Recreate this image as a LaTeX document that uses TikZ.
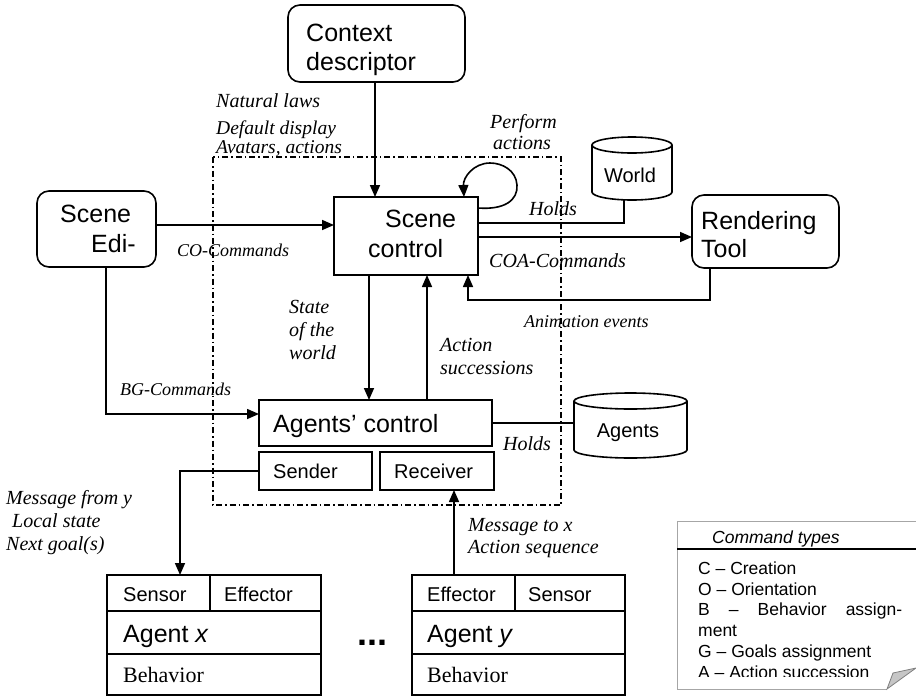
\documentclass[tikz,border=0pt]{standalone}
\usepackage{fontspec}
\setmainfont{Liberation Serif}
\setsansfont{Liberation Sans}
\usetikzlibrary{arrows.meta}
\begin{document}
\begin{tikzpicture}[x=1pt,y=-1pt,
  box/.style={draw, line width=1.6pt, inner sep=0pt, outer sep=0pt},
  rbox/.style={box, rounded corners=12pt},
  frame/.style={inner sep=0pt, outer sep=0pt},
  conn/.style={line width=1.6pt},
  arr/.style={conn, -{Triangle[length=12pt,width=10pt]}},
  big/.style={font=\sffamily\fontsize{25}{30}\selectfont, anchor=base west, inner sep=0pt},
  mid/.style={font=\sffamily\fontsize{20}{24}\selectfont, anchor=base west, inner sep=0pt},
  beh/.style={font=\rmfamily\fontsize{22}{26}\selectfont, anchor=base west, inner sep=0pt},
  lab/.style={font=\rmfamily\itshape\fontsize{20}{24}\selectfont, anchor=base west, inner sep=0pt},
  tlab/.style={font=\rmfamily\itshape\fontsize{19.5}{22}\selectfont, anchor=base west, inner sep=0pt},
  slab/.style={font=\rmfamily\itshape\fontsize{18}{22}\selectfont, anchor=base west, inner sep=0pt},
  note/.style={font=\sffamily\fontsize{17.5}{20}\selectfont, anchor=base west, inner sep=0pt},
  dashdot/.style={line width=1.3pt, dash pattern=on 6pt off 3pt on 1.5pt off 3pt}]
\useasboundingbox (0,0) rectangle (916,697);

% dash-dot boundary
\draw[dashdot] (213,157) rectangle (561,505);

% boxes
\node[rbox, minimum width=177pt, minimum height=77pt] (ctx) at (376.5,43.5) {};
\node[box, minimum width=144pt, minimum height=78pt] (sc) at (406,236) {};
\node[rbox, minimum width=119pt, minimum height=76pt] (se) at (96.5,229) {};
\node[rbox, minimum width=147pt, minimum height=73pt] (rt) at (765.5,231.5) {};
\node[box, minimum width=233pt, minimum height=46pt] (ac) at (375.5,423) {};
\node[box, minimum width=113pt, minimum height=38pt] (snd) at (315.5,471) {};
\node[box, minimum width=114pt, minimum height=38pt] (rcv) at (437,471) {};
\node[box, minimum width=214pt, minimum height=120pt] (ax) at (214,635) {};
\node[box, minimum width=213pt, minimum height=120pt] (ay) at (518.5,635) {};

% agent box internals
\draw[conn] (ax.west |- 0,611) -- (ax.east |- 0,611);
\draw[conn] (ax.west |- 0,654) -- (ax.east |- 0,654);
\draw[conn] (ax.north -| 210,0) -- (210,611);
\draw[conn] (ay.west |- 0,611) -- (ay.east |- 0,611);
\draw[conn] (ay.west |- 0,654) -- (ay.east |- 0,654);
\draw[conn] (ay.north -| 515,0) -- (515,611);

% cylinders
\draw[conn, fill=white] (592,145) -- (592,192) arc[start angle=180, end angle=0, x radius=40, y radius=8] -- (672,145);
\draw[conn] (632,145) ellipse [x radius=40, y radius=8];
\node[frame, minimum width=80pt, minimum height=63pt] (world) at (632,168.5) {};
\draw[conn, fill=white] (574,401) -- (574,450) arc[start angle=180, end angle=0, x radius=56.5, y radius=8] -- (687,401);
\draw[conn] (630.5,401) ellipse [x radius=56.5, y radius=8];
\node[frame, minimum width=113pt, minimum height=65pt] (agdb) at (630.5,425.5) {};

% box texts
\node[big] (t1) at (306,41) {Context};
\node[big] (t2) at (306,70) {descriptor};
\node[big] (t3) at (385,227) {Scene};
\node[big] (t4) at (368,257) {control};
\node[big] (t5) at (60,222) {Scene};
\node[big] (t6) at (91,252) {Edi-};
\node[big] (t7) at (701,229) {Rendering};
\node[big] (t8) at (701,257) {Tool};
\node[font=\sffamily\fontsize{20}{24}\selectfont, inner sep=0pt] (t9) at (630,175) {World};
\node[font=\sffamily\fontsize{20}{24}\selectfont, inner sep=0pt] (t10) at (628,433) {Agents};
\node[big] (t11) at (273,432) {Agents’ control};
\node[mid] (t12) at (273,478) {Sender};
\node[mid] (t13) at (394,478) {Receiver};
\node[mid] (t14) at (123,601) {Sensor};
\node[mid] (t15) at (224,601) {Effector};
\node[big] (t16) at (123,642) {Agent \textit{x}};
\node[beh] (t17) at (123,682) {Behavior};
\node[mid] (t18) at (427,601) {Effector};
\node[mid] (t19) at (528,601) {Sensor};
\node[big] (t20) at (427,642) {Agent \textit{y}};
\node[beh] (t21) at (427,682) {Behavior};
\node[font=\sffamily\bfseries\fontsize{36}{36}\selectfont, anchor=base, inner sep=0pt] (dots) at (372,645) {...};

% connectors
\draw[arr] (ctx.south -| 375,0) -- (sc.north -| 375,0);
\draw[arr] (se.east |- 0,225) -- (sc.west |- 0,225);
\draw[arr] (se.south -| 106,0) -- (106,414) -- (ac.west |- 0,414);
\draw[conn] (sc.east |- 0,223) -- (624,223) -- (world.south -| 624,0);
\draw[arr] (sc.east |- 0,237) -- (rt.west |- 0,237);
\draw[arr] (rt.south -| 710,0) -- (710,300) -- (468,300) -- (sc.south -| 468,0);
\draw[arr] (sc.south -| 369,0) -- (ac.north -| 369,0);
\draw[arr] (ac.north -| 427,0) -- (sc.south -| 427,0);
\draw[conn] (ac.east) -- (agdb.west |- ac.east);
\draw[arr] (snd.west) -- (180,0 |- snd.west) -- (ax.north -| 180,0);
\draw[arr] (ay.north -| 454,0) -- (rcv.south -| 454,0);
\draw[arr] (sc.east |- 0,208) .. controls (505,210) and (518,200) .. (517,185)
  .. controls (516,170) and (502,163) .. (490,163)
  .. controls (474,163) and (463,177) .. (sc.north -| 464,0);

% labels
\node[lab] (l1) at (216,107) {Natural laws};
\node[tlab] (l2) at (216,134) {Default display};
\node[tlab] (l3) at (216,153) {Avatars, actions};
\node[lab] (l4) at (490,128) {Perform};
\node[lab] (l5) at (493,149) {actions};
\node[lab] (l6) at (529,215) {Holds};
\node[lab] (l7) at (489,267) {COA-Commands};
\node[slab] (l8) at (524,327) {Animation events};
\node[slab] (l9) at (177,256) {CO-Commands};
\node[lab] (l10) at (289,313) {State};
\node[lab] (l11) at (289,336) {of the};
\node[lab] (l12) at (289,359) {world};
\node[lab] (l13) at (440,351) {Action};
\node[lab] (l14) at (440,374) {successions};
\node[slab] (l15) at (120,395) {BG-Commands};
\node[lab] (l16) at (503,450) {Holds};
\node[lab] (l17) at (6,504) {Message from y};
\node[lab] (l18) at (12,527) {Local state};
\node[lab] (l19) at (6,550) {Next goal(s)};
\node[lab] (l20) at (468,531) {Message to x};
\node[lab] (l21) at (468,553) {Action sequence};

% command types note
\draw[gray!70, line width=0.8pt] (916,521) -- (677,521) -- (677,689) -- (887,689);
\draw[line width=1.2pt] (677,549) -- (916,549);
\draw[gray, line width=0.8pt, fill=gray!45] (887,689) -- (893,673) -- (916,668) -- cycle;
\node[font=\sffamily\itshape\fontsize{17.5}{20}\selectfont, anchor=base west, inner sep=0pt] (ct) at (712,543) {Command types};
\begin{scope}
\clip (677,521) rectangle (916,676);
\node[note] (n1) at (698,574) {C – Creation};
\node[note] (n2) at (698,595) {O – Orientation};
\node[note] (n3) at (698,615.5) {\makebox[204pt][s]{B – Behavior assign-}};
\node[note] (n4) at (698,636) {ment};
\node[note] (n5) at (698,657) {G – Goals assignment};
\node[note] (n6) at (698,678) {A – Action succession};
\end{scope}
\end{tikzpicture}
\end{document}
